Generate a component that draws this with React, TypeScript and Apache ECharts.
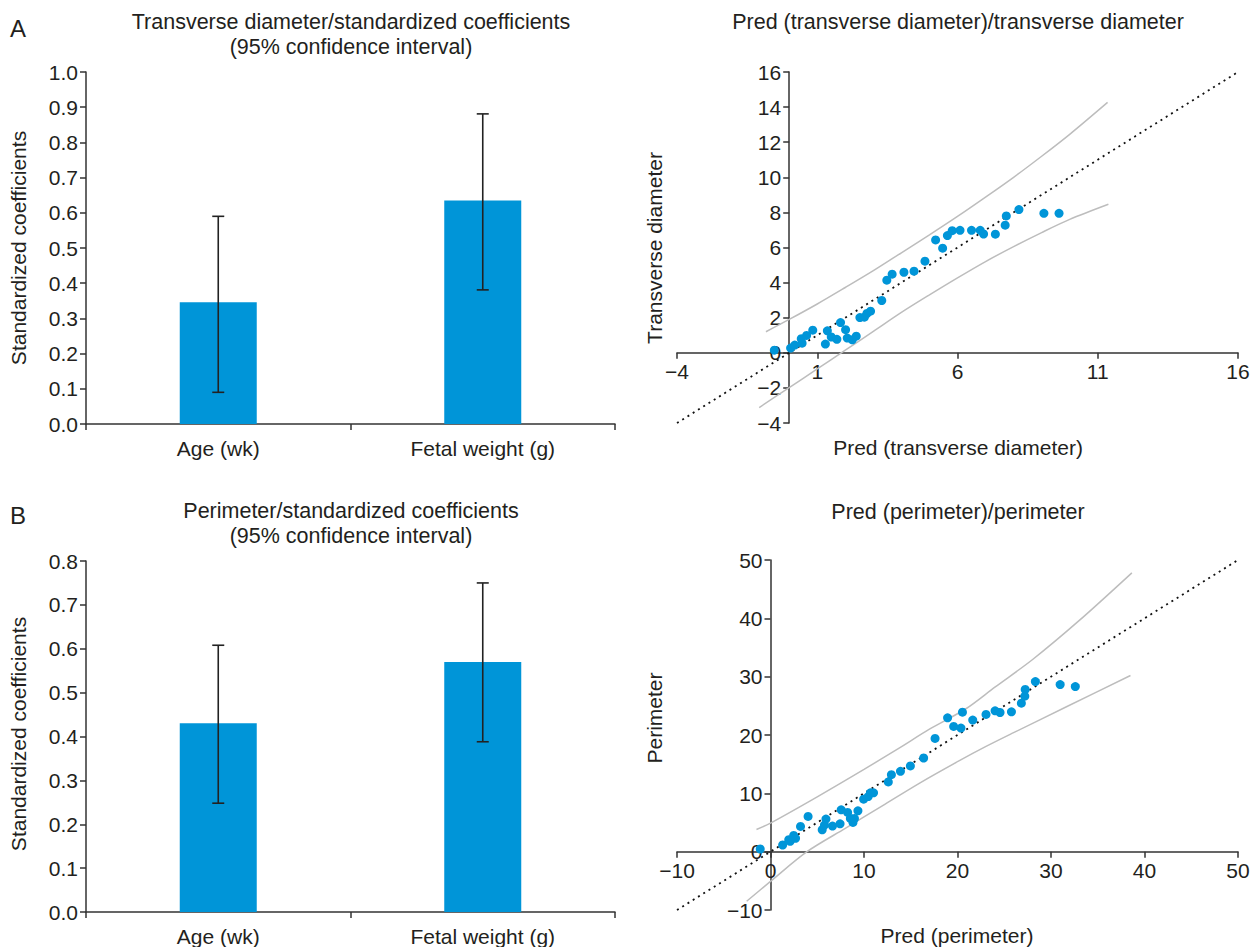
import React, { useEffect, useRef } from "react";
import * as echarts from "echarts";

// ---------- Data ----------
const BAR_CATEGORIES = ["Age (wk)", "Fetal weight (g)"];

const TD_COEF = [0.346, 0.635];
const TD_CI_LOW = [0.09, 0.381];
const TD_CI_HIGH = [0.59, 0.881];

const PM_COEF = [0.43, 0.57];
const PM_CI_LOW = [0.248, 0.388];
const PM_CI_HIGH = [0.608, 0.75];

const TD_PRED = [-0.53, 0.05, 0.2, 0.43, 0.46, 0.62, 0.84, 1.29, 1.36, 1.5, 1.7, 1.83, 2.01, 2.07, 2.25, 2.39, 2.52, 2.68, 2.77, 2.9, 3.3, 3.48, 3.67, 4.09, 4.45, 4.84, 5.22, 5.47, 5.64, 5.81, 6.09, 6.5, 6.81, 6.93, 7.35, 7.7, 7.74, 8.19, 9.08, 9.62];
const TD_ACTUAL = [0.15, 0.27, 0.44, 0.8, 0.55, 0.99, 1.29, 0.5, 1.25, 0.9, 0.77, 1.72, 1.32, 0.84, 0.74, 0.95, 2.01, 2.03, 2.24, 2.37, 2.98, 4.14, 4.48, 4.59, 4.65, 5.22, 6.43, 5.96, 6.68, 6.96, 6.98, 6.98, 6.98, 6.77, 6.76, 7.27, 7.8, 8.16, 7.95, 7.95];

const TD_UPPER_X = [-0.83, 0, 1, 2, 3, 4, 5, 6, 7, 8, 9, 10, 11.35];
const TD_UPPER_Y = [1.2, 1.9, 2.78, 3.72, 4.68, 5.7, 6.72, 7.77, 8.87, 10.0, 11.2, 12.45, 14.27];
const TD_LOWER_X = [-1.07, 0, 1, 2, 3, 4, 5, 6, 7, 8, 9, 10, 11.38];
const TD_LOWER_Y = [-3.12, -1.98, -0.92, 0.15, 1.22, 2.3, 3.3, 4.27, 5.2, 6.05, 6.85, 7.6, 8.46];

const PM_PRED = [-1.1, 1.3, 1.95, 2.1, 2.48, 2.68, 3.21, 4.02, 5.53, 5.77, 5.93, 6.63, 7.44, 7.56, 8.25, 8.54, 8.82, 8.98, 9.35, 9.96, 10.45, 10.69, 11.02, 12.6, 12.93, 13.9, 14.96, 16.38, 17.6, 18.94, 19.59, 20.37, 20.53, 21.63, 23.05, 24.02, 24.55, 25.77, 26.83, 27.2, 27.24, 28.33, 30.98, 32.6];
const PM_ACTUAL = [0.46, 1.14, 2.05, 1.77, 2.79, 2.28, 4.33, 6.04, 3.76, 4.56, 5.58, 4.38, 4.78, 7.18, 6.72, 5.69, 5.01, 5.69, 7.0, 9.0, 9.45, 10.08, 10.08, 11.96, 13.2, 13.78, 14.69, 16.06, 19.42, 22.95, 21.47, 21.18, 23.92, 22.55, 23.52, 24.15, 23.86, 23.97, 25.46, 26.65, 27.8, 29.16, 28.64, 28.3];

const PM_UPPER_X = [-1.5, 0, 5, 10, 13.8, 17, 20.9, 24, 28, 33, 38.65];
const PM_UPPER_Y = [3.8, 4.9, 9.4, 14.1, 17.8, 21.0, 24.5, 28.2, 32.9, 39.6, 47.8];
const PM_LOWER_X = [-2.55, 0, 3.9, 8, 12, 16, 20.2, 23, 26, 31.6, 38.5];
const PM_LOWER_Y = [-8.5, -5.1, 0, 4.0, 7.9, 11.8, 15.6, 18.0, 20.4, 24.8, 30.2];

const TD_X_TICKS = [-4, 1, 6, 11, 16];
const TD_IDENTITY = [-4, 16];
const PM_IDENTITY = [-10, 50];

// ---------- Styles ----------
const FONT = "'Liberation Sans', Arial, sans-serif";
const TEXT = "#231f20";
const BLUE = "#0095d8";
const AXIS = "#333333";
const BAND = "#bdbdbd";
const FS = 21;

const zip = (a: number[], b: number[]) => a.map((v, i) => [v, b[i]]);
const fmtNum = (v: number) => (v < 0 ? "\u2212" + Math.abs(v) : String(v));

function errorRender(params: any, api: any) {
  const x = api.value(0);
  const lo = api.coord([x, api.value(1)]);
  const hi = api.coord([x, api.value(2)]);
  const c = 6;
  const style = { stroke: "#222", lineWidth: 1.6 };
  return {
    type: "group",
    children: [
      { type: "line", shape: { x1: lo[0], y1: lo[1], x2: hi[0], y2: hi[1] }, style },
      { type: "line", shape: { x1: lo[0] - c, y1: lo[1], x2: lo[0] + c, y2: lo[1] }, style },
      { type: "line", shape: { x1: hi[0] - c, y1: hi[1], x2: hi[0] + c, y2: hi[1] }, style },
    ],
  };
}

const axisLineStyle = { show: true, onZero: false, lineStyle: { color: AXIS, width: 1.5 } };
const tickStyle = { show: true, length: 6, lineStyle: { color: AXIS, width: 1.5 } };
const labelStyle = { color: TEXT, fontSize: FS, fontFamily: FONT };

function text(t: string, x: number, y: number, extra: any = {}) {
  return {
    type: "text",
    x,
    y,
    rotation: extra.rotation || 0,
    style: {
      text: t,
      fill: TEXT,
      fontSize: extra.fontSize || FS,
      fontFamily: FONT,
      textAlign: "center",
      textVerticalAlign: "middle",
    },
  };
}

// Grid geometry for the two scatter panels
const G1 = { left: 677, top: 72, width: 561, height: 351 };
const G3 = { left: 677, top: 560, width: 561, height: 350 };

export default function App() {
  const ref = useRef<HTMLDivElement>(null);
  useEffect(() => {
    if (!ref.current) return;
    const chart = echarts.init(ref.current, undefined, { renderer: "svg" });

    const barX = (gi: number) => ({
      type: "category",
      gridIndex: gi,
      data: BAR_CATEGORIES,
      axisLine: axisLineStyle,
      axisTick: { ...tickStyle, alignWithLabel: false },
      axisLabel: { ...labelStyle, margin: 14 },
    });
    const barY = (gi: number, max: number) => ({
      type: "value",
      gridIndex: gi,
      min: 0,
      max,
      interval: 0.1,
      splitLine: { show: false },
      axisLine: axisLineStyle,
      axisTick: tickStyle,
      axisLabel: { ...labelStyle, formatter: (v: number) => v.toFixed(1) },
    });
    // value axis placed through the other axis's zero via offset
    const valAxis = (
      gi: number,
      min: number,
      max: number,
      interval: number,
      offset: number,
      custom?: number[]
    ) => {
      const a: any = {
        type: "value",
        gridIndex: gi,
        min,
        max,
        interval,
        offset,
        splitLine: { show: false },
        axisLine: { ...axisLineStyle },
        axisTick: { ...tickStyle },
        axisLabel: { ...labelStyle, formatter: fmtNum },
      };
      if (custom) {
        a.axisTick.customValues = custom;
        a.axisLabel.customValues = custom;
      }
      return a;
    };

    // offsets: distance from grid edge to value 0 on the perpendicular axis
    const g1XOff = -(G1.height * (0 - -4)) / (16 - -4);
    const g1YOff = -(G1.width * (0 - -4)) / (16 - -4);
    const g3XOff = -(G3.height * (0 - -10)) / (50 - -10);
    const g3YOff = -(G3.width * (0 - -10)) / (50 - -10);

    const dotted = { color: "#111", width: 1.8, type: [2, 4.2] };

    const option: any = {
      animation: false,
      backgroundColor: "#ffffff",
      textStyle: { fontFamily: FONT },
      grid: [
        { left: 86, top: 72, width: 529, height: 352 },
        G1,
        { left: 86, top: 561, width: 529, height: 351 },
        G3,
      ],
      xAxis: [
        barX(0),
        valAxis(1, -4, 16, 5, g1XOff, TD_X_TICKS),
        barX(2),
        valAxis(3, -10, 50, 10, g3XOff),
      ],
      yAxis: [
        barY(0, 1.0),
        valAxis(1, -4, 16, 2, g1YOff),
        barY(2, 0.8),
        valAxis(3, -10, 50, 10, g3YOff),
      ],
      graphic: [
        text("A", 18, 28, { fontSize: 24 }),
        text("B", 18, 515, { fontSize: 24 }),
        text("Transverse diameter/standardized coefficients", 351, 22, { fontSize: 21.5 }),
        text("(95% confidence interval)", 351, 47, { fontSize: 21.5 }),
        text("Perimeter/standardized coefficients", 351, 511, { fontSize: 21.5 }),
        text("(95% confidence interval)", 351, 536, { fontSize: 21.5 }),
        text("Pred (transverse diameter)/transverse diameter", 958, 22, { fontSize: 21.5 }),
        text("Pred (perimeter)/perimeter", 958, 512, { fontSize: 21.5 }),
        text("Standardized coefficients", 18, 248, { rotation: Math.PI / 2 }),
        text("Standardized coefficients", 18, 734, { rotation: Math.PI / 2 }),
        text("Transverse diameter", 654, 248, { rotation: Math.PI / 2 }),
        text("Perimeter", 654, 718, { rotation: Math.PI / 2 }),
        text("Pred (transverse diameter)", 958, 447),
        text("Pred (perimeter)", 957, 935),
      ],
      series: [
        {
          type: "bar",
          xAxisIndex: 0,
          yAxisIndex: 0,
          data: TD_COEF,
          barWidth: 77,
          itemStyle: { color: BLUE },
        },
        {
          type: "custom",
          xAxisIndex: 0,
          yAxisIndex: 0,
          renderItem: errorRender,
          encode: { x: 0, y: [1, 2] },
          data: TD_COEF.map((_, i) => [i, TD_CI_LOW[i], TD_CI_HIGH[i]]),
          z: 5,
        },
        {
          type: "bar",
          xAxisIndex: 2,
          yAxisIndex: 2,
          data: PM_COEF,
          barWidth: 77,
          itemStyle: { color: BLUE },
        },
        {
          type: "custom",
          xAxisIndex: 2,
          yAxisIndex: 2,
          renderItem: errorRender,
          encode: { x: 0, y: [1, 2] },
          data: PM_COEF.map((_, i) => [i, PM_CI_LOW[i], PM_CI_HIGH[i]]),
          z: 5,
        },
        // Top scatter panel
        {
          type: "line",
          xAxisIndex: 1,
          yAxisIndex: 1,
          data: zip(TD_IDENTITY, TD_IDENTITY),
          symbol: "none",
          lineStyle: dotted,
          z: 1,
        },
        {
          type: "line",
          xAxisIndex: 1,
          yAxisIndex: 1,
          data: zip(TD_UPPER_X, TD_UPPER_Y),
          symbol: "none",
          smooth: 0.3,
          lineStyle: { color: BAND, width: 1.5 },
          z: 1,
        },
        {
          type: "line",
          xAxisIndex: 1,
          yAxisIndex: 1,
          data: zip(TD_LOWER_X, TD_LOWER_Y),
          symbol: "none",
          smooth: 0.3,
          lineStyle: { color: BAND, width: 1.5 },
          z: 1,
        },
        {
          type: "scatter",
          xAxisIndex: 1,
          yAxisIndex: 1,
          data: zip(TD_PRED, TD_ACTUAL),
          symbolSize: 9,
          itemStyle: { color: BLUE, opacity: 1 },
          z: 3,
        },
        // Bottom scatter panel
        {
          type: "line",
          xAxisIndex: 3,
          yAxisIndex: 3,
          data: zip(PM_IDENTITY, PM_IDENTITY),
          symbol: "none",
          lineStyle: dotted,
          z: 1,
        },
        {
          type: "line",
          xAxisIndex: 3,
          yAxisIndex: 3,
          data: zip(PM_UPPER_X, PM_UPPER_Y),
          symbol: "none",
          smooth: 0.3,
          lineStyle: { color: BAND, width: 1.5 },
          z: 1,
        },
        {
          type: "line",
          xAxisIndex: 3,
          yAxisIndex: 3,
          data: zip(PM_LOWER_X, PM_LOWER_Y),
          symbol: "none",
          smooth: 0.3,
          lineStyle: { color: BAND, width: 1.5 },
          z: 1,
        },
        {
          type: "scatter",
          xAxisIndex: 3,
          yAxisIndex: 3,
          data: zip(PM_PRED, PM_ACTUAL),
          symbolSize: 9,
          itemStyle: { color: BLUE, opacity: 1 },
          z: 3,
        },
      ],
    };
    chart.setOption(option);
    return () => chart.dispose();
  }, []);

  return (
    <div
      ref={ref}
      style={{ position: "fixed", left: 0, top: 0, width: 1258, height: 947, background: "#fff" }}
    />
  );
}
